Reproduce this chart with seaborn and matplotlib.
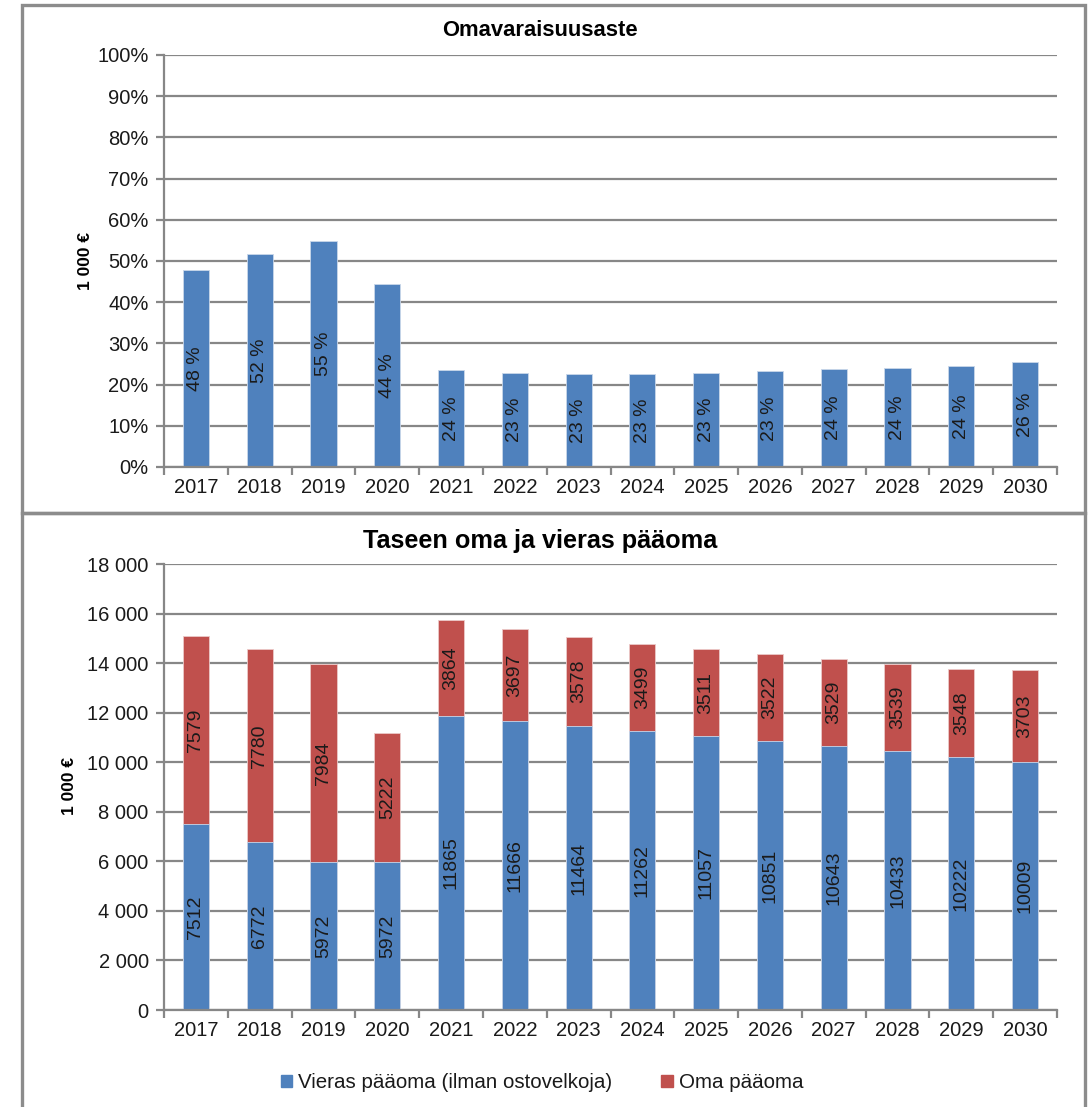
import matplotlib
matplotlib.use("Agg")
import matplotlib.pyplot as plt
from matplotlib.patches import Rectangle
from matplotlib.ticker import FuncFormatter, MultipleLocator, FixedLocator
import seaborn as sns
import pandas as pd

# ---- data ----
years = [2017, 2018, 2019, 2020, 2021, 2022, 2023, 2024, 2025, 2026, 2027, 2028, 2029, 2030]
equity_ratio = [47.8, 51.7, 54.9, 44.3, 23.5, 22.8, 22.6, 22.6, 22.8, 23.4, 23.7, 24.0, 24.4, 25.6]
vieras = [7512, 6772, 5972, 5972, 11865, 11666, 11464, 11262, 11057, 10851, 10643, 10433, 10222, 10009]
oma = [7579, 7780, 7984, 5222, 3864, 3697, 3578, 3499, 3511, 3522, 3529, 3539, 3548, 3703]

title_top = "Omavaraisuusaste"
title_bottom = "Taseen oma ja vieras pääoma"
ylabel = "1 000 €"
legend_labels = ["Vieras pääoma (ilman ostovelkoja)", "Oma pääoma"]

BLUE = "#4F81BD"
RED = "#C0504D"
GRID = "#878787"
TXT = "#1a1a1a"

sns.set_theme(style="white")
plt.rcParams["font.family"] = ["Liberation Sans", "DejaVu Sans"]

W, H = 1089, 1107
fig = plt.figure(figsize=(W / 100, H / 100), dpi=100)


def fx(px):
    return px / W


def fy(py):
    return 1 - py / H


# panel frames
for top, bottom in [(5, 513), (513, 1112)]:
    fig.patches.append(Rectangle((fx(22), fy(bottom)), fx(1085) - fx(22), fy(top) - fy(bottom),
                                 transform=fig.transFigure, fill=False,
                                 edgecolor="#8c8c8c", linewidth=2.4, zorder=0))

ax1 = fig.add_axes([fx(164), fy(467), fx(1057) - fx(164), fy(55) - fy(467)])
ax2 = fig.add_axes([fx(164), fy(1010), fx(1057) - fx(164), fy(564) - fy(1010)])

df = pd.DataFrame({"year": [str(y) for y in years], "ratio": equity_ratio,
                   "vieras": vieras, "oma": oma})
df["total"] = df["vieras"] + df["oma"]

BAR_W = 0.41
LBL = 14

# top: equity ratio
sns.barplot(data=df, x="year", y="ratio", color=BLUE, saturation=1, width=BAR_W,
            edgecolor="#c9d7ea", linewidth=0.6, ax=ax1, zorder=3)
ax1.bar_label(ax1.containers[0], labels=[f"{v:.0f} %" for v in equity_ratio],
              label_type="center", rotation=90, fontsize=LBL, color=TXT)
ax1.set_ylim(0, 100)
ax1.yaxis.set_major_locator(MultipleLocator(10))
ax1.yaxis.set_major_formatter(FuncFormatter(lambda v, p: f"{v:.0f}%"))

# bottom: stacked balance sheet
sns.barplot(data=df, x="year", y="total", color=RED, saturation=1, width=BAR_W,
            edgecolor="#ecc9c8", linewidth=0.6, ax=ax2, zorder=3)
sns.barplot(data=df, x="year", y="vieras", color=BLUE, saturation=1, width=BAR_W,
            edgecolor="#c9d7ea", linewidth=0.6, ax=ax2, zorder=4)
ax2.bar_label(ax2.containers[1], labels=[str(v) for v in vieras],
              label_type="center", rotation=90, fontsize=LBL, color=TXT, zorder=6)
for i, (v, o) in enumerate(zip(vieras, oma)):
    ax2.text(i, v + o / 2, str(o), rotation=90, ha="center", va="center",
             fontsize=LBL, color=TXT, zorder=6)
ax2.set_ylim(0, 18000)
ax2.yaxis.set_major_locator(MultipleLocator(2000))
ax2.yaxis.set_major_formatter(FuncFormatter(lambda v, p: f"{int(v):,}".replace(",", " ")))

panels = [(ax1, title_top, 15.8, 30, 86, 261),
          (ax2, title_bottom, 18.2, 541, 69, 786)]
for ax, title, fs, tpy, lpx, lpy in panels:
    ax.set_xlim(-0.5, len(years) - 0.5)
    ax.set_xlabel("")
    ax.set_ylabel("")
    ax.grid(axis="y", color=GRID, linewidth=1.6, zorder=1)
    ax.set_axisbelow(True)
    for s in ["top", "right"]:
        ax.spines[s].set_visible(False)
    for s in ["left", "bottom"]:
        ax.spines[s].set_color(GRID)
        ax.spines[s].set_linewidth(1.6)
        ax.spines[s].set_zorder(5)
    ax.xaxis.set_minor_locator(FixedLocator([i - 0.5 for i in range(len(years) + 1)]))
    ax.tick_params(axis="x", which="major", length=0, pad=8, labelsize=14.5, labelcolor=TXT)
    ax.tick_params(axis="x", which="minor", length=6, width=1.6, color=GRID, bottom=True)
    ax.tick_params(axis="y", which="major", length=6, width=1.6, color=GRID, left=True,
                   pad=5, labelsize=14.5, labelcolor=TXT)
    fig.text(fx(540), fy(tpy), title, ha="center", va="center", fontsize=fs,
             fontweight="bold", color="black")
    fig.text(fx(lpx), fy(lpy), ylabel, ha="center", va="center", rotation=90,
             fontsize=12.5, fontweight="bold", color="black")

handles = [Rectangle((0, 0), 1, 1, color=BLUE), Rectangle((0, 0), 1, 1, color=RED)]
fig.legend(handles, legend_labels, loc="center", bbox_to_anchor=(fx(542), fy(1083)),
           ncol=2, frameon=False, fontsize=14.8, handlelength=0.55, handleheight=0.55,
           handletextpad=0.3, columnspacing=2.4, labelcolor=TXT)

fig.savefig("out.png", dpi=100)
